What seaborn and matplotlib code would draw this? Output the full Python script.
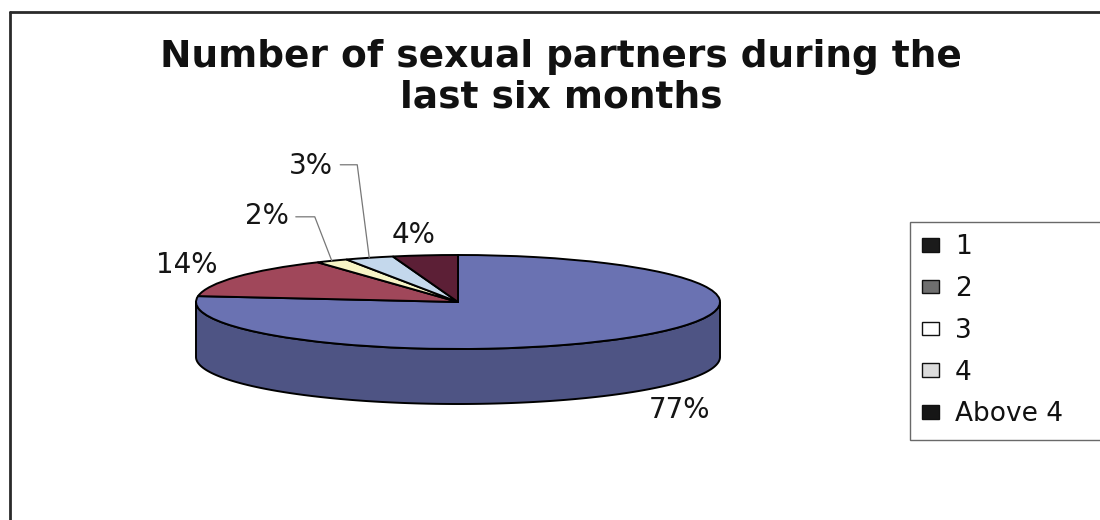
import numpy as np
import matplotlib
matplotlib.use("Agg")
import matplotlib.pyplot as plt
import matplotlib.colors as mcolors
from matplotlib.patches import Polygon, Patch
from matplotlib.lines import Line2D
from matplotlib.transforms import IdentityTransform
import seaborn as sns

# Data
categories = ["1", "2", "3", "4", "Above 4"]
shares = [77, 14, 2, 3, 4]
slice_colors = ["#6A72B2", "#A0475A", "#F7F5C6", "#C4D8EC", "#5C1F36"]
legend_colors = ["#1b1b1b", "#6f6f6f", "#ffffff", "#dcdcdc", "#161616"]
title_text = "Number of sexual partners during the\nlast six months"

sns.set_theme(style="white")
plt.rcParams["font.family"] = ["DejaVu Sans"]

W, H = 1100, 520
fig = plt.figure(figsize=(W / 100, H / 100), dpi=100)
fig.patch.set_facecolor("white")

# Tilted pie: top disc is an ellipse, the front rim is extruded downwards
rx_px, ry_px, depth_px = 262, 47, 55
cx_px, cy_px = 458, 302
depth = depth_px / ry_px
top_px = cy_px - ry_px
bottom_px = cy_px + ry_px + depth_px
ax = fig.add_axes([(cx_px - rx_px) / W, 1 - bottom_px / H,
                   2 * rx_px / W, (bottom_px - top_px) / H])


def shade(c, f=0.74):
    r, g, b = mcolors.to_rgb(c)
    return (r * f, g * f, b * f)


wedges, _ = ax.pie(shares, colors=slice_colors, startangle=90, counterclock=False,
                   radius=1, wedgeprops=dict(edgecolor="black", linewidth=1.4))
ax.set_aspect("auto")
ax.set_xlim(-1, 1)
ax.set_ylim(-1 - depth, 1)
ax.axis("off")

for w in wedges:
    w.set_clip_on(False)
    w.set_zorder(3)
    t1, t2 = w.theta1, w.theta2
    for k in (-1, 0, 1):
        a = max(t1, 180 + 360 * k)
        b = min(t2, 360 + 360 * k)
        if b <= a:
            continue
        t = np.radians(np.linspace(a, b, 240))
        xs, ys = np.cos(t), np.sin(t)
        verts = np.concatenate([np.column_stack([xs, ys]),
                                np.column_stack([xs[::-1], ys[::-1] - depth])])
        ax.add_patch(Polygon(verts, closed=True, facecolor=shade(w.get_facecolor()),
                             edgecolor="black", linewidth=1.4, zorder=2, clip_on=False))

# Percentage labels, placed in pixels relative to each slice's rim midpoint
label_offsets = [(48, -73), (-50, 12), (-65, 45), (-58, 92), (-12, 20)]
leader_elbows = {2: [(-36, 44), (-17, 44)], 3: [(-29, 93), (-12, 93)]}
for i, w in enumerate(wedges):
    m = np.radians((w.theta1 + w.theta2) / 2)
    anchor = (np.cos(m), np.sin(m))
    ax.annotate(f"{shares[i]}%", xy=anchor, xytext=label_offsets[i],
                textcoords="offset pixels", ha="center", va="center",
                fontsize=20, color="#151515", annotation_clip=False)
    if i in leader_elbows:
        ax_px, ay_px = ax.transData.transform(anchor)
        pts = leader_elbows[i] + [(0, 0)]
        fig.add_artist(Line2D([ax_px + p[0] for p in pts], [ay_px + p[1] for p in pts],
                              transform=IdentityTransform(), color="#777777", lw=0.9))

# Title
fig.text(561 / W, 1 - 77.5 / H, title_text, ha="center", va="center",
         fontsize=27, fontweight="bold", color="#111111", linespacing=1.17)

# Outer chart border (top and left edges)
fig.add_artist(Line2D([10 / W, 1], [1 - 12 / H, 1 - 12 / H], transform=fig.transFigure,
                      color="#2a2a2a", lw=2))
fig.add_artist(Line2D([10 / W, 10 / W], [0, 1 - 12 / H], transform=fig.transFigure,
                      color="#2a2a2a", lw=2))

# Legend
handles = [Patch(facecolor=c, edgecolor="#111111", linewidth=1.0) for c in legend_colors]
leg = fig.legend(handles, categories, loc="upper left",
                 bbox_to_anchor=(910 / W, 1 - 222 / H, 220 / W, 0),
                 bbox_transform=fig.transFigure, mode="expand", fontsize=19,
                 frameon=True, fancybox=False, borderpad=0.46, labelspacing=0.6,
                 handlelength=0.65, handleheight=0.42, handletextpad=0.6,
                 borderaxespad=0)
leg.get_frame().set_edgecolor("#444444")
leg.get_frame().set_linewidth(1.0)
for t in leg.get_texts():
    t.set_color("#111111")

fig.savefig("out.png", dpi=100, facecolor="white")
